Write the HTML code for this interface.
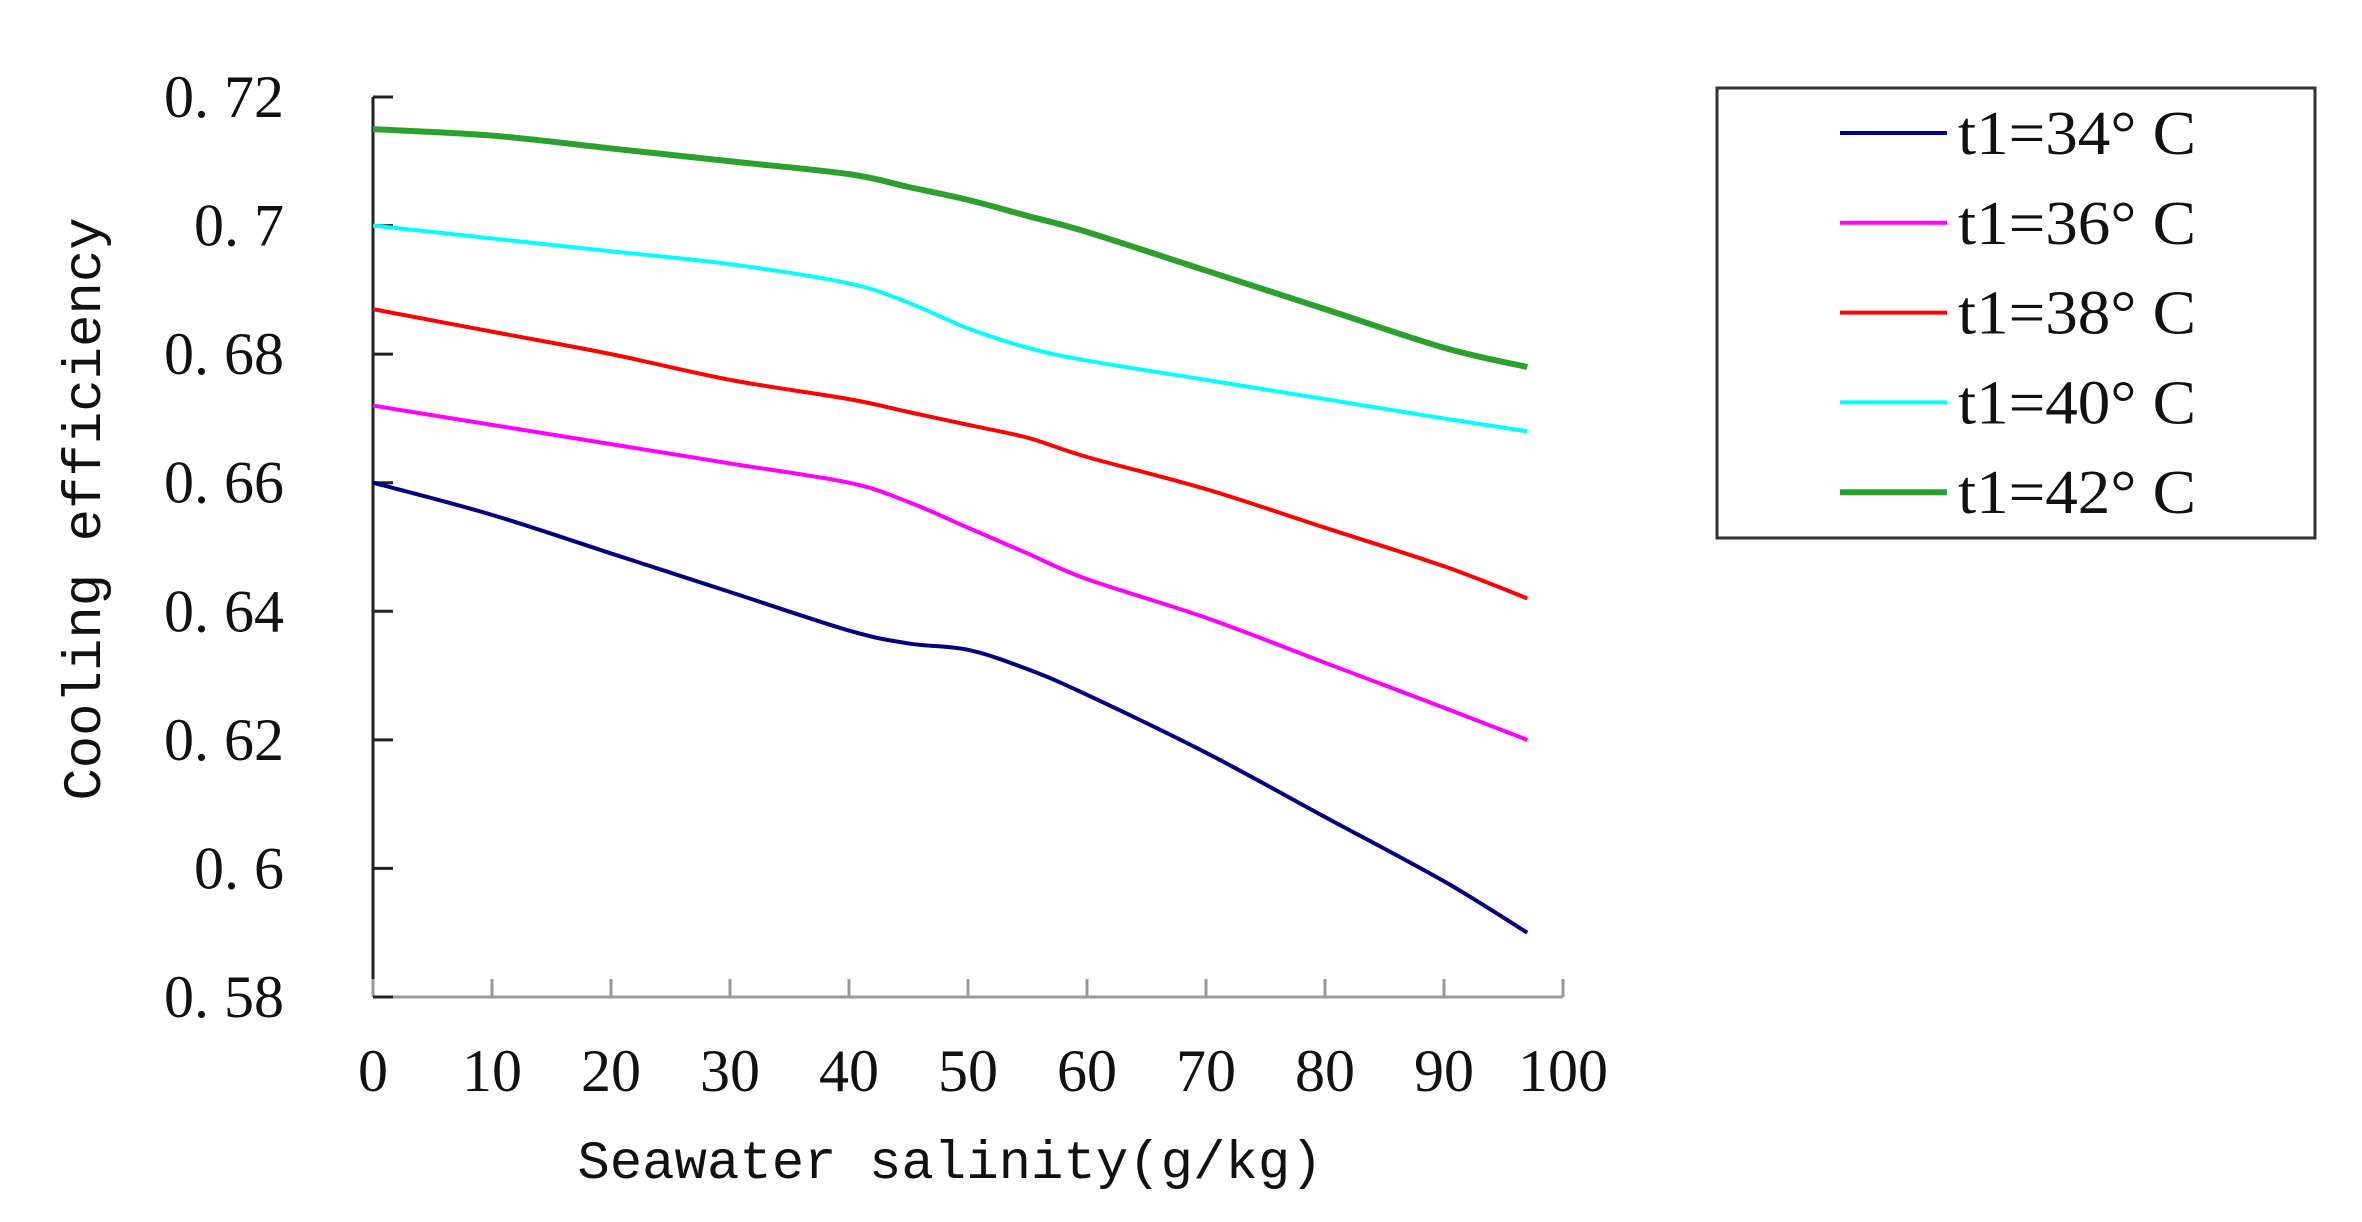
<!DOCTYPE html>
<html><head><meta charset="utf-8"><style>
html,body{margin:0;padding:0;background:#fff;}
svg{display:block;}
</style></head><body>
<svg id="chart" width="2362" height="1222" viewBox="0 0 2362 1222" xmlns="http://www.w3.org/2000/svg">
<g id="axes"></g>
<g id="series"></g>
<text x="0" y="0" transform="translate(100,509) rotate(-90)" text-anchor="middle" font-family="Liberation Mono, monospace" font-size="54" fill="#111">Cooling efficiency</text>
<text x="950" y="1178" text-anchor="middle" font-family="Liberation Mono, monospace" font-size="54" fill="#111">Seawater salinity(g/kg)</text>
<g>
<rect x="1717" y="88" width="598" height="450" fill="#fff" stroke="#333" stroke-width="3"/>
<g id="legend-entries"></g>
</g>
</svg>
<script>
const categories = [0,10,20,30,40,45,50,55,60,70,80,90,97];
const s34 = [0.660,0.655,0.649,0.643,0.637,0.635,0.634,0.631,0.627,0.618,0.608,0.598,0.590];
const s36 = [0.672,0.669,0.666,0.663,0.660,0.657,0.653,0.649,0.645,0.639,0.632,0.625,0.620];
const s38 = [0.687,0.6835,0.680,0.676,0.673,0.671,0.669,0.667,0.664,0.659,0.653,0.647,0.642];
const s40 = [0.700,0.698,0.696,0.694,0.691,0.688,0.684,0.681,0.679,0.676,0.673,0.670,0.668];
const s42 = [0.715,0.714,0.712,0.710,0.708,0.706,0.704,0.7015,0.699,0.693,0.687,0.681,0.678];
const seriesNames = ["t1=34° C","t1=36° C","t1=38° C","t1=40° C","t1=42° C"];
const xTicks = [0,10,20,30,40,50,60,70,80,90,100];
const yTicks = [0.58,0.60,0.62,0.64,0.66,0.68,0.70,0.72];
const yTickLabels = ["0. 58","0. 6","0. 62","0. 64","0. 66","0. 68","0. 7","0. 72"];

const NS="http://www.w3.org/2000/svg";
const X0=373,X1=1563,Y0=997,Y1=97;
const xs=v=>X0+(v-0)/100*(X1-X0);
const ys=v=>Y0-(v-0.58)/0.14*(Y0-Y1);
function mk(tag,attrs,parent){const e=document.createElementNS(NS,tag);for(const k in attrs)e.setAttribute(k,attrs[k]);parent.appendChild(e);return e;}
const axes=document.getElementById('axes');
let el=mk('line',{x1:X0,y1:Y0,x2:X1,y2:Y0,stroke:'#999','stroke-width':3},axes);


el=mk('line',{x1:X0,y1:Y0,x2:X0,y2:Y1,stroke:'#222','stroke-width':3},axes);


xTicks.forEach(t=>{
  const x=xs(t);
  let e=mk('line',{x1:x,y1:Y0,x2:x,y2:Y0-18,stroke:'#999','stroke-width':3},axes);
  
  
  e=mk('text',{x:x,y:1091,'text-anchor':'middle','font-family':'Liberation Serif, serif','font-size':60,fill:'#111'},axes);
  e.textContent=t;
  
  
});
yTicks.forEach((t,i)=>{
  const y=ys(t);
  let e=mk('line',{x1:X0,y1:y,x2:X0+20,y2:y,stroke:'#222','stroke-width':3},axes);
  
  
  e=mk('text',{x:284,y:y+20,'text-anchor':'end','font-family':'Liberation Serif, serif','font-size':60,fill:'#111'},axes);
  e.textContent=yTickLabels[i];
  
  
});
function smooth(pts){
  let d=`M${pts[0][0]},${pts[0][1]}`;
  for(let i=0;i<pts.length-1;i++){
    const p0=pts[i-1]||pts[i],p1=pts[i],p2=pts[i+1],p3=pts[i+2]||p2;
    const c1=[p1[0]+(p2[0]-p0[0])/6,p1[1]+(p2[1]-p0[1])/6];
    const c2=[p2[0]-(p3[0]-p1[0])/6,p2[1]-(p3[1]-p1[1])/6];
    d+=` C${c1[0]},${c1[1]} ${c2[0]},${c2[1]} ${p2[0]},${p2[1]}`;
  }
  return d;
}
const all=[s34,s36,s38,s40,s42];
const colors=['#000080','#ff00ff','#ff0000','#00ffff','#2ca02c'];
const widths=[4,4,4,4,6];
const ser=document.getElementById('series');
all.forEach((s,i)=>{
  const pts=categories.map((c,j)=>[xs(c),ys(s[j])]);
  const p=mk('path',{d:smooth(pts),fill:'none',stroke:colors[i],'stroke-width':widths[i],'stroke-linejoin':'round'},ser);
  
  
});
const leg=document.getElementById('legend-entries');
seriesNames.forEach((n,i)=>{
  const y=133+i*89.8;
  const g=mk('g',{},leg);
  
  
  mk('line',{x1:1840,y1:y,x2:1947,y2:y,stroke:colors[i],'stroke-width':widths[i]},g);
  const t=mk('text',{x:1958,y:y+21,'font-family':'Liberation Serif, serif','font-size':62,fill:'#111',textLength:238,lengthAdjust:'spacingAndGlyphs'},g);
  t.textContent=n;
});
</script>
</body></html>
